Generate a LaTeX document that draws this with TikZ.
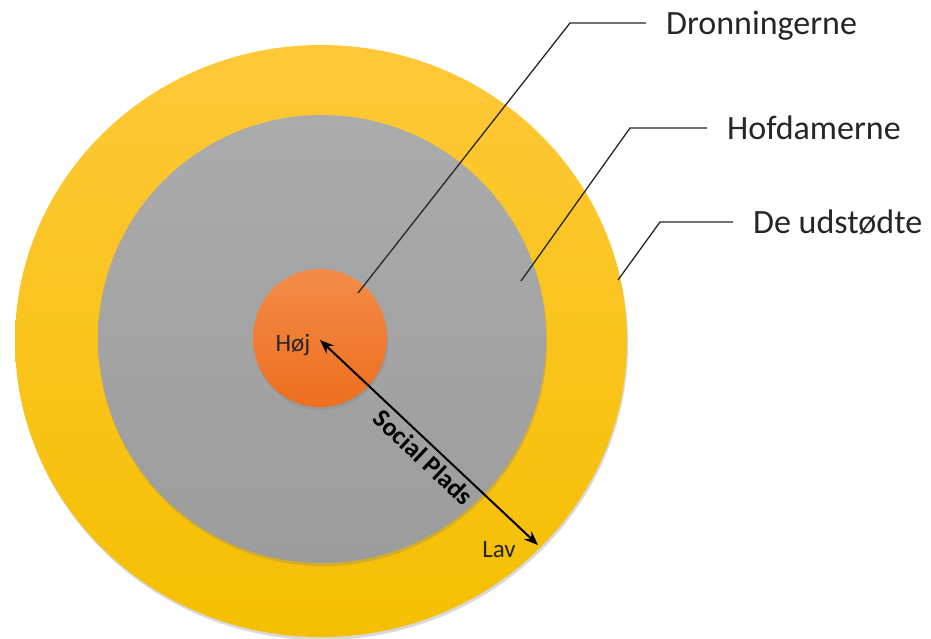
\documentclass[tikz,border=0pt]{standalone}
\usepackage{fontspec}
\setmainfont{Carlito}
\usetikzlibrary{positioning,arrows.meta,shapes.geometric,shadows}
\definecolor{cgul}{HTML}{F5BF00}
\definecolor{cgullys}{HTML}{FFC838}
\definecolor{cgraa}{HTML}{9C9C9C}
\definecolor{cgraalys}{HTML}{ABABAB}
\definecolor{corange}{HTML}{EE6E1E}
\definecolor{corangelys}{HTML}{F28C48}
\definecolor{cstreg}{HTML}{262626}
\tikzset{
  ring/.style={ellipse, inner sep=0pt, outer sep=0pt,
    drop shadow={shadow xshift=1pt, shadow yshift=-3pt, opacity=0.3}},
  leder/.style={draw=cstreg, line width=1.3pt},
  etiket/.style={anchor=west, inner xsep=20pt, text depth=0pt,
    font=\fontsize{34}{40}\selectfont, text=cstreg},
  pil/.style={{Stealth[length=14pt,width=11pt]}-{Stealth[length=14pt,width=11pt]},
    line width=2pt, draw=black},
  lille/.style={text depth=0pt, font=\fontsize{25}{30}\selectfont, text=black!85},
}
\begin{document}
\begin{tikzpicture}[x=1pt,y=-1pt]
  \useasboundingbox (0,0) rectangle (931,638);
  % ringene
  \node[ring, top color=cgullys, bottom color=cgul,
    minimum width=612pt, minimum height=592pt] (udstoedte) at (321,341) {};
  \node[ring, top color=cgraalys, bottom color=cgraa,
    minimum width=448pt, minimum height=448pt] (hofdamer) at (322,339) {};
  \node[ring, top color=corangelys, bottom color=corange,
    minimum width=134pt, minimum height=138pt] (dronning) at (320,338) {};
  % etiketter
  \node[etiket] (lblD) at (646,23) {Dronningerne};
  \node[etiket] (lblH) at (707,128) {Hofdamerne};
  \node[etiket] (lblU) at (733,222) {De udstødte};
  % ledere
  \coordinate (dD) at (358,293);
  \coordinate (dH) at (521,281);
  \coordinate (dU) at (618,280);
  \draw[leder] (dD) -- (570,23) -- (lblD.west);
  \draw[leder] (dH) -- (630,128) -- (lblH.west);
  \draw[leder] (dU) -- (660,222) -- (lblU.west);
  % social plads
  \node[lille] (hoej) at (293,343) {Høj};
  \node[lille] (lav) at (499,549) {Lav};
  \coordinate (pT) at (320,340);
  \coordinate (pB) at (538,545);
  \draw[pil] (pT) -- node[sloped, below=1pt, pos=0.52,
    font=\bfseries\fontsize{26}{30}\selectfont] {Social Plads} (pB);
\end{tikzpicture}
\end{document}
